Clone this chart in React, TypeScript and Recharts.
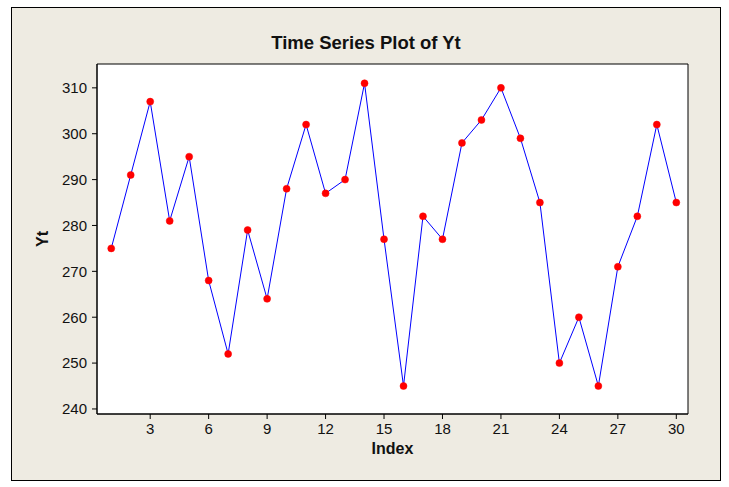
import { CartesianGrid, Label, Line, LineChart, ReferenceArea, XAxis, YAxis } from "recharts";

const indexValues = [
  1, 2, 3, 4, 5, 6, 7, 8, 9, 10, 11, 12, 13, 14, 15,
  16, 17, 18, 19, 20, 21, 22, 23, 24, 25, 26, 27, 28, 29, 30,
];
const ytValues = [
  275, 291, 307, 281, 295, 268, 252, 279, 264, 288, 302, 287, 290, 311, 277,
  245, 282, 277, 298, 303, 310, 299, 285, 250, 260, 245, 271, 282, 302, 285,
];
const xTicks = [3, 6, 9, 12, 15, 18, 21, 24, 27, 30];
const yTicks = [240, 250, 260, 270, 280, 290, 300, 310];

const xDomain: [number, number] = [0.27, 30.6];
const yDomain: [number, number] = [238.9, 315.2];

const data = indexValues.map((idx, i) => ({ idx, yt: ytValues[i] }));

const font = "'Liberation Sans', Arial, sans-serif";
const tickStyle = { fill: "#111", fontSize: 15, fontFamily: font };

export default function App() {
  return (
    <div style={{ position: "relative", width: 729, height: 487, background: "#fff", fontFamily: font }}>
      <style>{"body{margin:0}"}</style>
      <div
        style={{
          position: "absolute",
          left: 11,
          top: 7,
          width: 708,
          height: 472,
          border: "1px solid #000",
          background: "#EEEBE2",
        }}
      />
      <div
        style={{
          position: "absolute",
          left: 11,
          width: 710,
          top: 32,
          textAlign: "center",
          fontSize: 18.5,
          fontWeight: "bold",
          color: "#111",
        }}
      >
        Time Series Plot of Yt
      </div>
      <div style={{ position: "absolute", left: 0, top: 0 }}>
        <LineChart width={729} height={487} data={data} margin={{ top: 64, right: 41, bottom: 43, left: 0 }}>
          <CartesianGrid fill="#fff" horizontal={false} vertical={false} />
          <XAxis
            type="number"
            dataKey="idx"
            domain={xDomain}
            ticks={xTicks}
            allowDataOverflow
            height={30}
            tickSize={5}
            tickMargin={4}
            tick={tickStyle}
            axisLine={{ stroke: "#000" }}
            tickLine={{ stroke: "#000" }}
          >
            <Label value="Index" position="insideBottom" offset={-10} style={{ fontWeight: "bold", fontSize: 16, fill: "#111", fontFamily: font }} />
          </XAxis>
          <YAxis
            type="number"
            domain={yDomain}
            ticks={yTicks}
            allowDataOverflow
            width={97}
            tickSize={5}
            tickMargin={5}
            tick={tickStyle}
            axisLine={{ stroke: "#000" }}
            tickLine={{ stroke: "#000" }}
          >
            <Label value="Yt" angle={-90} position="insideLeft" offset={42} style={{ fontWeight: "bold", fontSize: 16, fill: "#111", fontFamily: font, textAnchor: "middle" }} />
          </YAxis>
          <ReferenceArea
            x1={xDomain[0]}
            x2={xDomain[1]}
            y1={yDomain[0]}
            y2={yDomain[1]}
            fill="none"
            fillOpacity={0}
            stroke="#000"
            strokeWidth={1}
            ifOverflow="extendDomain"
          />
          <Line
            type="linear"
            dataKey="yt"
            stroke="#0000FF"
            strokeWidth={1}
            dot={{ r: 3.5, fill: "#FF0000", stroke: "#FF0000", strokeWidth: 0.5 }}
            activeDot={false}
            isAnimationActive={false}
          />
        </LineChart>
      </div>
    </div>
  );
}
